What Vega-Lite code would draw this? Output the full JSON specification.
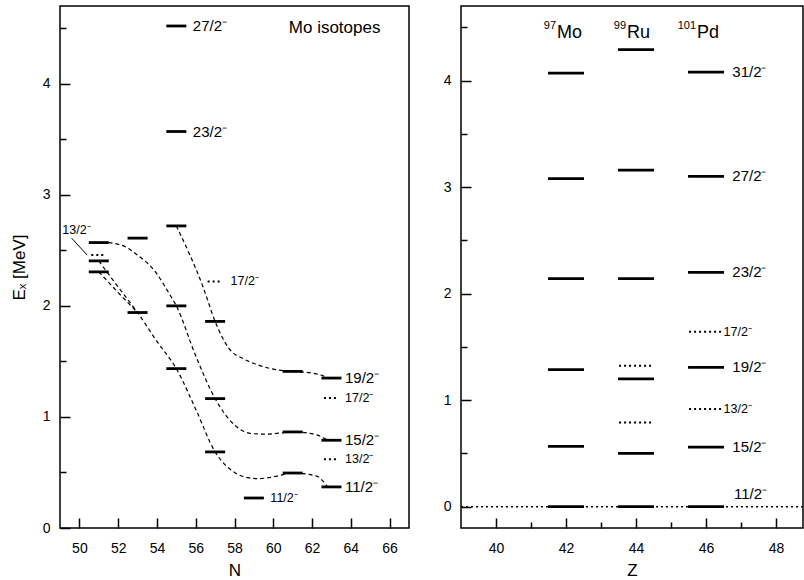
{
  "$schema": "https://vega.github.io/schema/vega-lite/v6.json",
  "autosize": {"type": "pad"},
  "padding": {"left": 9, "top": 5, "right": 0, "bottom": 0},
  "background": "white",
  "spacing": 52,
  "bounds": "flush",
  "config": {
    "font": "Liberation Sans",
    "view": {"stroke": "black", "strokeWidth": 1.5},
    "tick": {"opacity": 1},
    "axis": {
      "grid": false,
      "domain": false,
      "labelFont": "Liberation Sans",
      "labelFontSize": 14,
      "labelColor": "black",
      "titleFont": "Liberation Sans",
      "titleFontSize": 17,
      "titleFontWeight": "normal",
      "titleColor": "black",
      "tickColor": "black",
      "tickWidth": 1.5,
      "tickSize": -10
    }
  },
  "datasets": {
    "levelsN": [
      {"N": 51, "E": 2.57, "kind": "solid"},
      {"N": 51, "E": 2.457, "kind": "dotted"},
      {"N": 51, "E": 2.405, "kind": "solid"},
      {"N": 51, "E": 2.306, "kind": "solid"},
      {"N": 53, "E": 2.61, "kind": "solid"},
      {"N": 53, "E": 1.94, "kind": "solid"},
      {"N": 55, "E": 4.52, "kind": "solid"},
      {"N": 55, "E": 3.57, "kind": "solid"},
      {"N": 55, "E": 2.72, "kind": "solid"},
      {"N": 55, "E": 2.0, "kind": "solid"},
      {"N": 55, "E": 1.435, "kind": "solid"},
      {"N": 57, "E": 2.22, "kind": "dotted"},
      {"N": 57, "E": 1.86, "kind": "solid"},
      {"N": 57, "E": 1.165, "kind": "solid"},
      {"N": 57, "E": 0.685, "kind": "solid"},
      {"N": 59, "E": 0.27, "kind": "solid"},
      {"N": 61, "E": 1.41, "kind": "solid"},
      {"N": 61, "E": 0.865, "kind": "solid"},
      {"N": 61, "E": 0.495, "kind": "solid"},
      {"N": 63, "E": 1.35, "kind": "solid"},
      {"N": 63, "E": 1.17, "kind": "dotted"},
      {"N": 63, "E": 0.79, "kind": "solid"},
      {"N": 63, "E": 0.62, "kind": "dotted"},
      {"N": 63, "E": 0.37, "kind": "solid"}
    ],
    "labelsN": [
      {"N": 55.85, "E": 4.52, "label": "27/2⁻", "kind": "solid"},
      {"N": 55.85, "E": 3.57, "label": "23/2⁻", "kind": "solid"},
      {"N": 57.8, "E": 2.22, "label": "17/2⁻", "kind": "dotted"},
      {"N": 63.7, "E": 1.35, "label": "19/2⁻", "kind": "solid"},
      {"N": 63.7, "E": 1.17, "label": "17/2⁻", "kind": "dotted"},
      {"N": 63.7, "E": 0.79, "label": "15/2⁻", "kind": "solid"},
      {"N": 63.7, "E": 0.62, "label": "13/2⁻", "kind": "dotted"},
      {"N": 63.7, "E": 0.37, "label": "11/2⁻", "kind": "solid"},
      {"N": 59.85, "E": 0.27, "label": "11/2⁻", "kind": "dotted"},
      {"N": 49.12, "E": 2.68, "label": "13/2⁻", "kind": "dotted"}
    ],
    "curves": [
      {"curve": "A", "N": 55, "E": 2.72},
      {"curve": "A", "N": 56.4, "E": 2.16},
      {"curve": "A", "N": 57, "E": 1.86},
      {"curve": "A", "N": 57.7, "E": 1.62},
      {"curve": "A", "N": 58.5, "E": 1.52},
      {"curve": "A", "N": 59.1, "E": 1.475},
      {"curve": "A", "N": 60, "E": 1.43},
      {"curve": "A", "N": 61, "E": 1.41},
      {"curve": "A", "N": 62, "E": 1.395},
      {"curve": "A", "N": 62.5, "E": 1.375},
      {"curve": "A", "N": 62.8, "E": 1.35},
      {"curve": "B", "N": 51.5, "E": 2.57},
      {"curve": "B", "N": 52.4, "E": 2.53},
      {"curve": "B", "N": 52.9, "E": 2.47},
      {"curve": "B", "N": 53.95, "E": 2.3},
      {"curve": "B", "N": 54.6, "E": 2.12},
      {"curve": "B", "N": 55, "E": 2.0},
      {"curve": "B", "N": 56, "E": 1.55},
      {"curve": "B", "N": 57, "E": 1.165},
      {"curve": "B", "N": 58.05, "E": 0.92},
      {"curve": "B", "N": 58.9, "E": 0.85},
      {"curve": "B", "N": 59.7, "E": 0.845},
      {"curve": "B", "N": 61, "E": 0.865},
      {"curve": "B", "N": 62.2, "E": 0.84},
      {"curve": "B", "N": 62.8, "E": 0.79},
      {"curve": "C", "N": 51, "E": 2.405},
      {"curve": "C", "N": 52, "E": 2.17},
      {"curve": "C", "N": 53, "E": 1.94},
      {"curve": "C", "N": 54, "E": 1.68},
      {"curve": "C", "N": 55, "E": 1.435},
      {"curve": "C", "N": 56, "E": 1.07},
      {"curve": "C", "N": 57, "E": 0.685},
      {"curve": "C", "N": 58, "E": 0.5},
      {"curve": "C", "N": 58.7, "E": 0.453},
      {"curve": "C", "N": 59.2, "E": 0.444},
      {"curve": "C", "N": 60, "E": 0.46},
      {"curve": "C", "N": 61, "E": 0.495},
      {"curve": "C", "N": 62.2, "E": 0.47},
      {"curve": "C", "N": 62.8, "E": 0.37},
      {"curve": "D", "N": 51, "E": 2.306},
      {"curve": "D", "N": 52, "E": 2.12},
      {"curve": "D", "N": 53, "E": 1.94}
    ],
    "leader": [
      {"N": 49.6, "E": 2.61},
      {"N": 50.4, "E": 2.457}
    ],
    "levelsZ": [
      {"Z": 42, "E": 4.07, "kind": "solid"},
      {"Z": 42, "E": 3.08, "kind": "solid"},
      {"Z": 42, "E": 2.14, "kind": "solid"},
      {"Z": 42, "E": 1.286, "kind": "solid"},
      {"Z": 42, "E": 0.566, "kind": "solid"},
      {"Z": 42, "E": 0, "kind": "solid"},
      {"Z": 44, "E": 4.29, "kind": "solid"},
      {"Z": 44, "E": 3.16, "kind": "solid"},
      {"Z": 44, "E": 2.14, "kind": "solid"},
      {"Z": 44, "E": 1.324, "kind": "dotted"},
      {"Z": 44, "E": 1.199, "kind": "solid"},
      {"Z": 44, "E": 0.79, "kind": "dotted"},
      {"Z": 44, "E": 0.5, "kind": "solid"},
      {"Z": 44, "E": 0, "kind": "solid"},
      {"Z": 46, "E": 4.08, "kind": "solid"},
      {"Z": 46, "E": 3.1, "kind": "solid"},
      {"Z": 46, "E": 2.2, "kind": "solid"},
      {"Z": 46, "E": 1.643, "kind": "dotted"},
      {"Z": 46, "E": 1.308, "kind": "solid"},
      {"Z": 46, "E": 0.917, "kind": "dotted"},
      {"Z": 46, "E": 0.56, "kind": "solid"},
      {"Z": 46, "E": 0, "kind": "solid"}
    ],
    "labelsZ": [
      {"Z": 46.75, "E": 4.08, "label": "31/2⁻", "kind": "solid"},
      {"Z": 46.75, "E": 3.1, "label": "27/2⁻", "kind": "solid"},
      {"Z": 46.75, "E": 2.2, "label": "23/2⁻", "kind": "solid"},
      {"Z": 46.5, "E": 1.643, "label": "17/2⁻", "kind": "dotted"},
      {"Z": 46.75, "E": 1.308, "label": "19/2⁻", "kind": "solid"},
      {"Z": 46.5, "E": 0.917, "label": "13/2⁻", "kind": "dotted"},
      {"Z": 46.75, "E": 0.56, "label": "15/2⁻", "kind": "solid"},
      {"Z": 46.8, "E": 0.12, "label": "11/2⁻", "kind": "solid"}
    ],
    "nuclei": [
      {"Z": 42, "mass": "97", "element": "Mo"},
      {"Z": 44, "mass": "99", "element": "Ru"},
      {"Z": 46, "mass": "101", "element": "Pd"}
    ]
  },
  "hconcat": [
    {
      "width": 349,
      "height": 522,
      "layer": [
        {
          "data": {"name": "curves"},
          "mark": {"type": "line", "color": "black", "strokeWidth": 1.2, "strokeDash": [4, 3], "interpolate": "monotone"},
          "encoding": {
            "x": {
              "field": "N", "type": "quantitative",
              "scale": {"domain": [49, 67], "nice": false, "zero": false},
              "axis": {
                "title": "N",
                "values": [50,51,52,53,54,55,56,57,58,59,60,61,62,63,64,65,66],
                "labelExpr": "datum.value % 2 === 0 ? format(datum.value, 'd') : ''",
                "tickDash": {"condition": {"test": "datum.value % 2 === 0", "value": [20, 1]}, "value": [6, 20]},
                "labelPadding": 23,
                "titlePadding": 7
              }
            },
            "y": {
              "field": "E", "type": "quantitative",
              "scale": {"domain": [0, 4.7], "nice": false, "zero": false},
              "axis": {
                "title": "Eₓ [MeV]",
                "values": [0,0.5,1,1.5,2,2.5,3,3.5,4,4.5],
                "labelExpr": "datum.value % 1 === 0 ? format(datum.value, 'd') : ''",
                "tickDash": {"condition": {"test": "datum.value % 1 === 0", "value": [20, 1]}, "value": [6, 20]},
                "labelPadding": 20,
                "titlePadding": 14
              }
            },
            "detail": {"field": "curve"}
          }
        },
        {
          "data": {"name": "leader"},
          "mark": {"type": "line", "color": "black", "strokeWidth": 1},
          "encoding": {
            "x": {"field": "N", "type": "quantitative"},
            "y": {"field": "E", "type": "quantitative"}
          }
        },
        {
          "data": {"name": "levelsN"},
          "transform": [{"filter": "datum.kind === 'solid'"}],
          "mark": {"type": "tick", "orient": "horizontal", "color": "black", "size": 20, "thickness": 2.8, "opacity": 1},
          "encoding": {
            "x": {"field": "N", "type": "quantitative"},
            "y": {"field": "E", "type": "quantitative"}
          }
        },
        {
          "data": {"name": "levelsN"},
          "transform": [{"filter": "datum.kind === 'dotted'"}],
          "mark": {"type": "point", "shape": "M-1,0H1", "size": 225, "filled": false, "color": "black", "strokeWidth": 2, "strokeDash": [2, 3], "opacity": 1},
          "encoding": {
            "x": {"field": "N", "type": "quantitative"},
            "y": {"field": "E", "type": "quantitative"}
          }
        },
        {
          "data": {"name": "labelsN"},
          "transform": [{"filter": "datum.kind === 'solid'"}],
          "mark": {"type": "text", "align": "left", "baseline": "middle", "fontSize": 15, "color": "black"},
          "encoding": {
            "x": {"field": "N", "type": "quantitative"},
            "y": {"field": "E", "type": "quantitative"},
            "text": {"field": "label"}
          }
        },
        {
          "data": {"name": "labelsN"},
          "transform": [{"filter": "datum.kind === 'dotted'"}],
          "mark": {"type": "text", "align": "left", "baseline": "middle", "fontSize": 12.5, "color": "black"},
          "encoding": {
            "x": {"field": "N", "type": "quantitative"},
            "y": {"field": "E", "type": "quantitative"},
            "text": {"field": "label"}
          }
        },
        {
          "data": {"values": [{"label": "Mo isotopes"}]},
          "mark": {"type": "text", "align": "left", "baseline": "middle", "fontSize": 17, "color": "black"},
          "encoding": {
            "x": {"datum": 60.8, "type": "quantitative"},
            "y": {"datum": 4.5, "type": "quantitative"},
            "text": {"field": "label"}
          }
        }
      ]
    },
    {
      "width": 342,
      "height": 522,
      "layer": [
        {
          "data": {"values": [{"E": 0}]},
          "mark": {"type": "rule", "color": "black", "strokeWidth": 1.5, "strokeDash": [2, 3]},
          "encoding": {
            "y": {
              "field": "E", "type": "quantitative",
              "scale": {"domain": [-0.2, 4.7], "nice": false, "zero": false},
              "axis": {
                "title": null,
                "values": [0,0.5,1,1.5,2,2.5,3,3.5,4,4.5],
                "labelExpr": "datum.value % 1 === 0 ? format(datum.value, 'd') : ''",
                "tickDash": {"condition": {"test": "datum.value % 1 === 0", "value": [20, 1]}, "value": [6, 20]},
                "labelPadding": 20
              }
            }
          }
        },
        {
          "data": {"name": "levelsZ"},
          "transform": [{"filter": "datum.kind === 'solid'"}],
          "mark": {"type": "tick", "orient": "horizontal", "color": "black", "size": 36, "thickness": 2.8, "opacity": 1},
          "encoding": {
            "x": {
              "field": "Z", "type": "quantitative",
              "scale": {"domain": [39, 48.77], "nice": false, "zero": false},
              "axis": {
                "title": "Z",
                "values": [40,41,42,43,44,45,46,47,48],
                "labelExpr": "datum.value % 2 === 0 ? format(datum.value, 'd') : ''",
                "tickDash": {"condition": {"test": "datum.value % 2 === 0", "value": [20, 1]}, "value": [6, 20]},
                "labelPadding": 23,
                "titlePadding": 7
              }
            },
            "y": {"field": "E", "type": "quantitative"}
          }
        },
        {
          "data": {"name": "levelsZ"},
          "transform": [{"filter": "datum.kind === 'dotted'"}],
          "mark": {"type": "point", "shape": "M-1,0H1", "size": 1150, "filled": false, "color": "black", "strokeWidth": 2, "strokeDash": [2, 3], "opacity": 1},
          "encoding": {
            "x": {"field": "Z", "type": "quantitative"},
            "y": {"field": "E", "type": "quantitative"}
          }
        },
        {
          "data": {"name": "labelsZ"},
          "transform": [{"filter": "datum.kind === 'solid'"}],
          "mark": {"type": "text", "align": "left", "baseline": "middle", "fontSize": 15, "color": "black"},
          "encoding": {
            "x": {"field": "Z", "type": "quantitative"},
            "y": {"field": "E", "type": "quantitative"},
            "text": {"field": "label"}
          }
        },
        {
          "data": {"name": "labelsZ"},
          "transform": [{"filter": "datum.kind === 'dotted'"}],
          "mark": {"type": "text", "align": "left", "baseline": "middle", "fontSize": 12.5, "color": "black"},
          "encoding": {
            "x": {"field": "Z", "type": "quantitative"},
            "y": {"field": "E", "type": "quantitative"},
            "text": {"field": "label"}
          }
        },
        {
          "data": {"name": "nuclei"},
          "mark": {"type": "text", "align": "left", "baseline": "middle", "fontSize": 18, "color": "black", "dx": -9},
          "encoding": {
            "x": {"field": "Z", "type": "quantitative"},
            "y": {"datum": 4.45, "type": "quantitative"},
            "text": {"field": "element"}
          }
        },
        {
          "data": {"name": "nuclei"},
          "mark": {"type": "text", "align": "right", "baseline": "middle", "fontSize": 11, "color": "black", "dx": -10, "dy": -7},
          "encoding": {
            "x": {"field": "Z", "type": "quantitative"},
            "y": {"datum": 4.45, "type": "quantitative"},
            "text": {"field": "mass"}
          }
        }
      ]
    }
  ]
}
